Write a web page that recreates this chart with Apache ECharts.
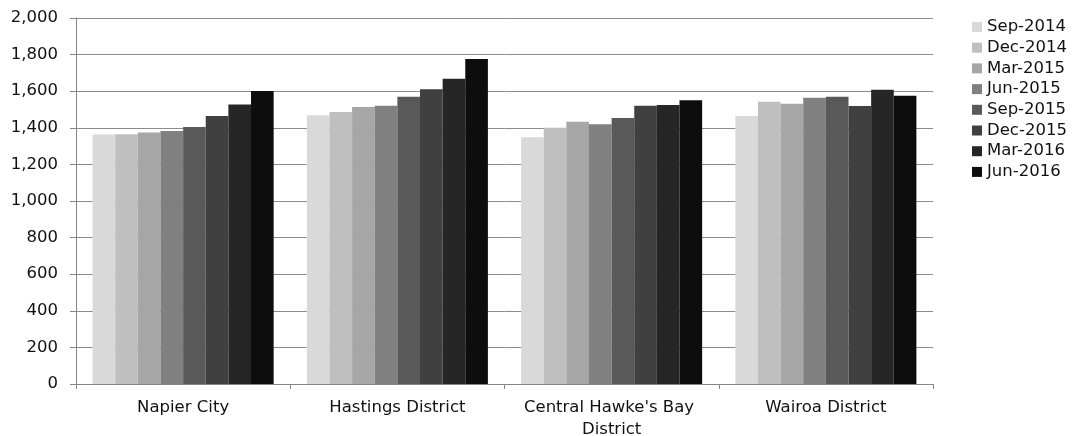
<!DOCTYPE html>
<html>
<head>
<meta charset="utf-8">
<script src="https://cdn.jsdelivr.net/npm/echarts@6/dist/echarts.min.js"></script>
<style>
html,body{margin:0;padding:0;background:#fff;}
#chart{width:1080px;height:436px;}
</style>
</head>
<body>
<div id="chart"></div>
<script>
const categories = ['Napier City', 'Hastings District', "Central Hawke's Bay District", 'Wairoa District'];
const seriesNames = ['Sep-2014', 'Dec-2014', 'Mar-2015', 'Jun-2015', 'Sep-2015', 'Dec-2015', 'Mar-2016', 'Jun-2016'];
const sep2014 = [1364, 1469, 1349, 1464];
const dec2014 = [1365, 1487, 1400, 1542];
const mar2015 = [1375, 1513, 1433, 1531];
const jun2015 = [1382, 1520, 1419, 1564];
const sep2015 = [1404, 1569, 1453, 1569];
const dec2015 = [1464, 1610, 1520, 1519];
const mar2016 = [1528, 1668, 1524, 1608];
const jun2016 = [1601, 1776, 1550, 1575];
const yTicks = [0, 200, 400, 600, 800, 1000, 1200, 1400, 1600, 1800, 2000];

const values = [sep2014, dec2014, mar2015, jun2015, sep2015, dec2015, mar2016, jun2016];
const colors = ['#d9d9d9', '#bfbfbf', '#a6a6a6', '#808080', '#595959', '#404040', '#262626', '#0d0d0d'];
const FONT = 'DejaVu Sans';
const FS = 16.5;

const chart = echarts.init(document.getElementById('chart'), null, {renderer: 'canvas'});
chart.setOption({
  animation: false,
  color: colors,
  textStyle: {fontFamily: FONT},
  grid: {left: 76, top: 18, right: 147, bottom: 52, containLabel: false, outerBoundsMode: 'none'},
  legend: {
    orient: 'vertical',
    left: 967,
    top: 13.5,
    itemWidth: 10,
    itemHeight: 10,
    itemGap: 3.7,
    icon: 'rect',
    textStyle: {fontFamily: FONT, fontSize: FS, color: '#111', lineHeight: 17},
    data: seriesNames
  },
  xAxis: {
    type: 'category',
    data: categories,
    axisLine: {lineStyle: {color: '#868686', width: 1}},
    axisTick: {show: true, length: 5, lineStyle: {color: '#868686'}},
    axisLabel: {
      interval: 0, margin: 13, color: '#111', fontFamily: FONT, fontSize: FS,
      lineHeight: 22, width: 205, overflow: 'break'
    },
    splitLine: {show: false}
  },
  yAxis: {
    type: 'value',
    min: yTicks[0],
    max: yTicks[yTicks.length - 1],
    interval: 200,
    axisLine: {show: true, lineStyle: {color: '#868686', width: 1}},
    axisTick: {show: true, length: 6, lineStyle: {color: '#868686'}},
    axisLabel: {
      margin: 18, color: '#111', fontFamily: FONT, fontSize: FS,
      formatter: v => v.toLocaleString('en-US')
    },
    splitLine: {show: true, lineStyle: {color: '#8c8c8c', width: 1}}
  },
  series: seriesNames.map((n, i) => ({
    name: n,
    type: 'bar',
    data: values[i],
    barGap: '0%',
    barCategoryGap: '15.5%',
    itemStyle: {color: colors[i]}
  }))
});
</script>
</body>
</html>
